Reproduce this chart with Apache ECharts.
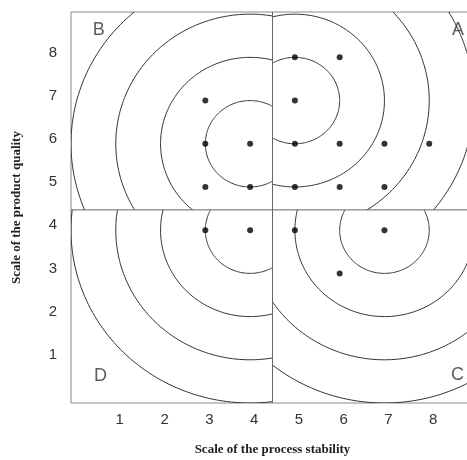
<!DOCTYPE html>
<html><head><meta charset="utf-8">
<script src="https://cdn.jsdelivr.net/npm/echarts@6/dist/echarts.min.js"></script>
<style>html,body{margin:0;padding:0;background:#fff;overflow:hidden}#c{width:467px;height:460px}</style>
</head><body><div id="c"></div>
<script>
// ---- data ----
const xTicks = [1, 2, 3, 4, 5, 6, 7, 8];
const yTicks = [1, 2, 3, 4, 5, 6, 7, 8];
const xMax = 9, yMax = 9.05;
const splitX = 4.5, splitY = 4.47;
const quadLetters = ['A', 'B', 'C', 'D'];
const centerX = [5, 4, 7, 4];
const centerY = [7, 6, 4, 4];
const letterX = [8.64, 0.62, 8.63, 0.66];
const letterY = [8.63, 8.63, 0.65, 0.62];
const ringRadii = [1, 2, 3, 4];
const ptsX = [3, 3, 4, 3, 4, 5, 6, 5, 5, 6, 7, 8, 5, 6, 7, 3, 4, 5, 7, 6];
const ptsY = [7, 6, 6, 5, 5, 8, 8, 7, 6, 6, 6, 6, 5, 5, 5, 4, 4, 4, 4, 3];

// quadrant bounds [x0,x1,y0,y1]
const qBounds = [
  [splitX, xMax, splitY, yMax],
  [0, splitX, splitY, yMax],
  [splitX, xMax, 0, splitY],
  [0, splitX, 0, splitY]
];

const ringData = [];
centerX.forEach((cx, q) => ringRadii.forEach(r => ringData.push([cx, centerY[q], r, q])));
const ptData = ptsX.map((x, i) => [x, ptsY[i]]);
const letterData = quadLetters.map((l, i) => ({ value: [letterX[i], letterY[i]], name: l }));
const dividerData = [[splitX, 0, splitX, yMax], [0, splitY, xMax, splitY]];

const chart = echarts.init(document.getElementById('c'));
chart.setOption({
  animation: false,
  grid: { left: 71, top: 12, width: 403, height: 391, show: true, borderColor: '#8a8a8a', borderWidth: 1,
    containLabel: false, outerBoundsMode: 'none' },
  xAxis: {
    type: 'value', min: 0, max: xMax, interval: 1,
    axisLine: { show: false }, axisTick: { show: false }, splitLine: { show: false },
    axisLabel: {
      margin: 9, fontSize: 15, color: '#333', fontFamily: 'Liberation Sans',
      padding: [0, 0, 0, 8],
      formatter: v => xTicks.includes(v) ? String(v) : ''
    },
    name: 'Scale of the process stability', nameLocation: 'middle', nameGap: 40,
    nameTextStyle: { fontFamily: 'Liberation Serif', fontWeight: 'bold', fontSize: 13, color: '#222' }
  },
  yAxis: {
    type: 'value', min: 0, max: yMax, interval: 1,
    axisLine: { show: false }, axisTick: { show: false }, splitLine: { show: false },
    axisLabel: {
      margin: 14, fontSize: 15, color: '#333', fontFamily: 'Liberation Sans',
      verticalAlign: 'bottom', lineHeight: 10,
      formatter: v => yTicks.includes(v) ? String(v) : ''
    },
    name: 'Scale of the product quality', nameLocation: 'middle', nameGap: 48,
    nameTextStyle: { fontFamily: 'Liberation Serif', fontWeight: 'bold', fontSize: 13, color: '#222' }
  },
  series: [
    {
      type: 'custom', data: ringData, clip: true, silent: true,
      renderItem: (params, api) => {
        const cx = api.value(0), cy = api.value(1), r = api.value(2), q = api.value(3);
        const pts = [];
        for (let k = 0; k <= 240; k++) {
          const t = k / 240 * Math.PI * 2;
          pts.push(api.coord([cx + r * Math.cos(t), cy + r * Math.sin(t)]));
        }
        const b = qBounds[q];
        const p0 = api.coord([b[0], b[3]]), p1 = api.coord([b[1], b[2]]);
        return {
          type: 'polyline', shape: { points: pts },
          style: { stroke: '#333', lineWidth: 1, fill: null },
          clipPath: { type: 'rect', shape: { x: p0[0], y: p0[1], width: p1[0] - p0[0], height: p1[1] - p0[1] } }
        };
      }
    },
    {
      type: 'custom', data: dividerData, silent: true,
      renderItem: (params, api) => {
        const a = api.coord([api.value(0), api.value(1)]);
        const b = api.coord([api.value(2), api.value(3)]);
        return { type: 'line', shape: { x1: a[0], y1: a[1], x2: b[0], y2: b[1] }, style: { stroke: '#666', lineWidth: 1 } };
      }
    },
    {
      type: 'scatter', data: ptData, symbolSize: 6, itemStyle: { color: '#000' }, silent: true
    },
    {
      type: 'scatter', data: letterData, symbolSize: 0, silent: true,
      label: { show: true, position: 'inside', formatter: p => p.name, fontSize: 18, color: '#333', fontFamily: 'Liberation Sans' }
    }
  ]
});
</script></body></html>
